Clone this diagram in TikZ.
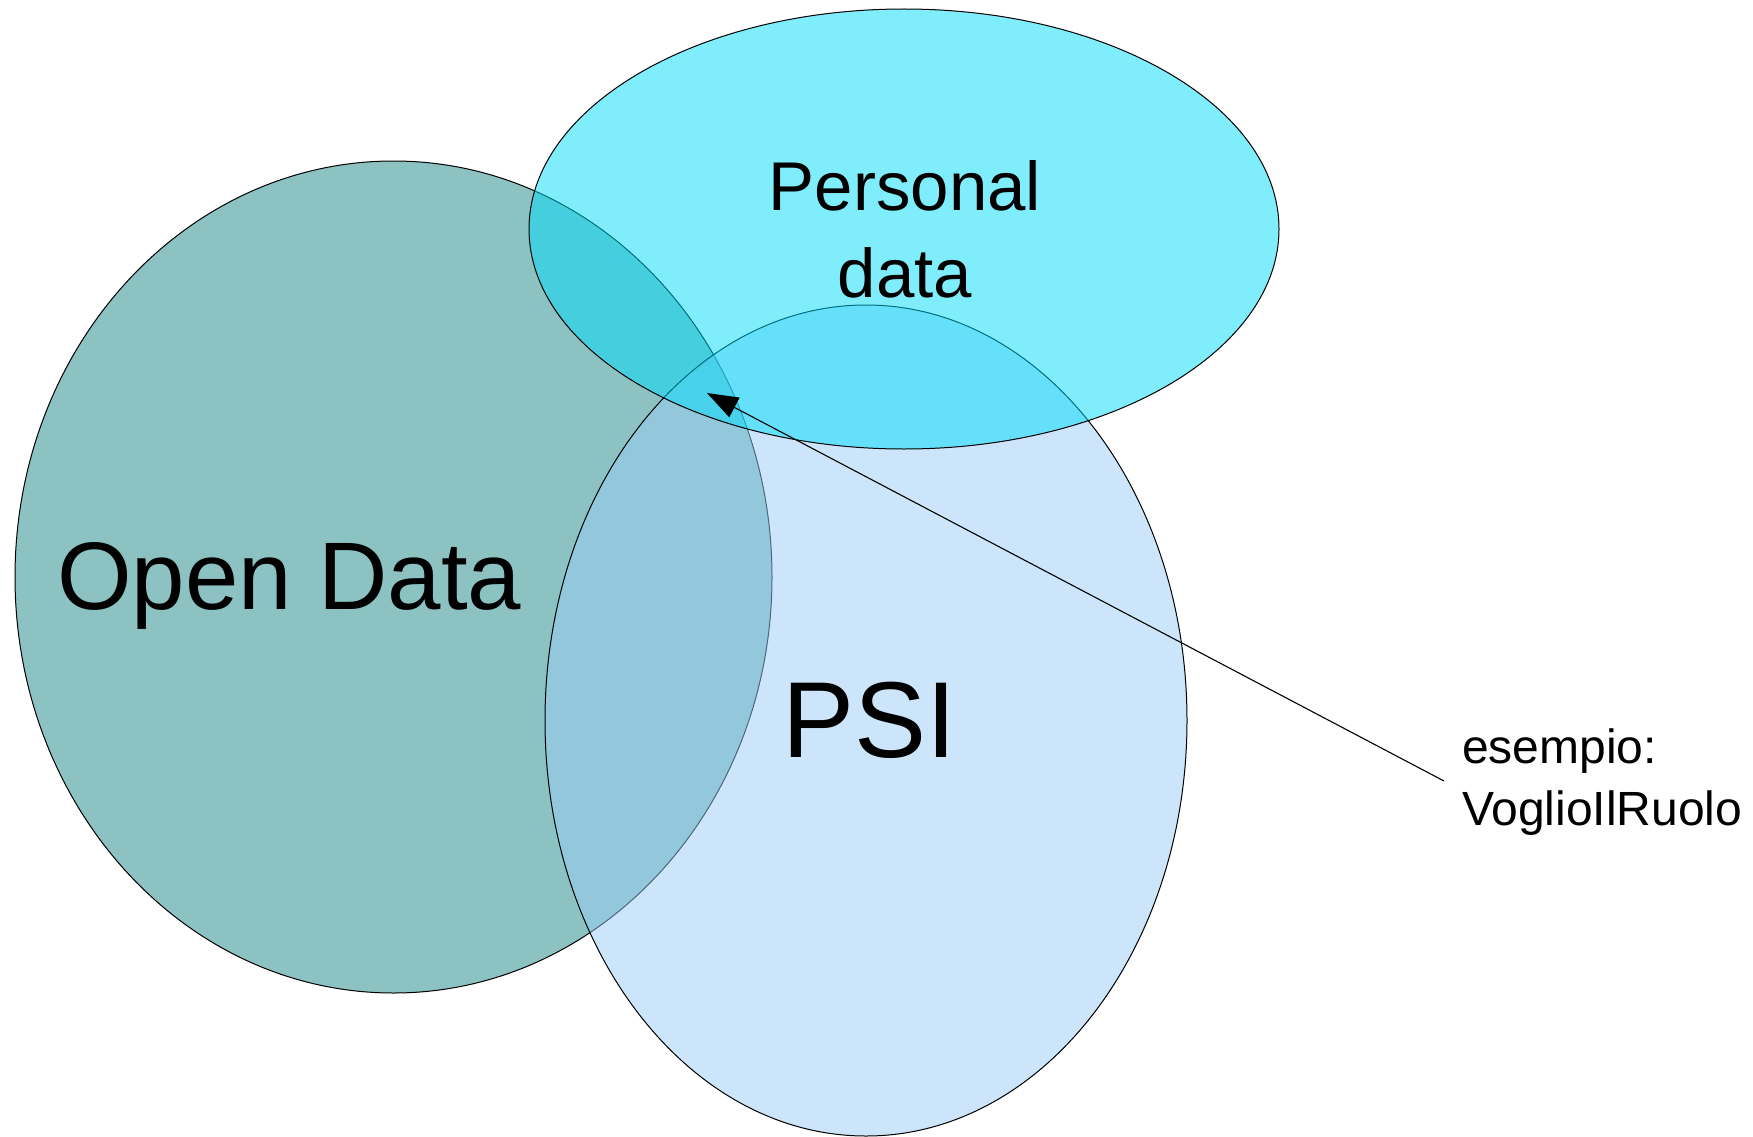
\documentclass[tikz,border=0pt]{standalone}
\usepackage{fontspec}
\setmainfont{Liberation Sans}
\usetikzlibrary{arrows.meta}
\definecolor{odfill}{RGB}{140,195,194}
\definecolor{psifill}{RGB}{153,204,247}
\definecolor{pdfill}{RGB}{0,220,250}
\tikzset{
  blob/.style={draw=black, line width=1pt},
  lbl/.style={inner sep=0pt, outer sep=0pt, text=black},
  conn/.style={draw=black, line width=1.1pt, -{Triangle[length=31pt,width=22pt]}}
}
\begin{document}
\begin{tikzpicture}[x=1pt,y=-1pt]
\useasboundingbox (0,0) rectangle (1753,1137);
% Open Data
\draw[blob, fill=odfill] (393.5,577) ellipse [x radius=378.5, y radius=416];
% PSI
\draw[blob, fill=psifill, fill opacity=0.5] (866,720.5) ellipse [x radius=321, y radius=415.5];
% Personal data
\draw[blob, fill=pdfill, fill opacity=0.5] (904,229) ellipse [x radius=375, y radius=220];
% labels
\node[lbl, anchor=base west, font=\fontsize{96}{115}\selectfont] (od) at (57,609) {Open Data};
\node[lbl, anchor=base west, font=\fontsize{108}{130}\selectfont] (psi) at (782,757) {PSI};
\node[lbl, anchor=base, font=\fontsize{69}{83}\selectfont] (pdA) at (905,210) {Personal};
\node[lbl, anchor=base, font=\fontsize{69}{83}\selectfont] (pdB) at (905,297) {data};
\node[lbl, anchor=base west, font=\fontsize{48}{58}\selectfont] (exA) at (1462,763) {esempio:};
\node[lbl, anchor=base west, font=\fontsize{48}{58}\selectfont] (exB) at (1462,825) {VoglioIlRuolo};
% connector
\coordinate (src) at (1444,781);
\coordinate (tip) at (707,393);
\draw[conn] (src) -- (tip);
\end{tikzpicture}
\end{document}
